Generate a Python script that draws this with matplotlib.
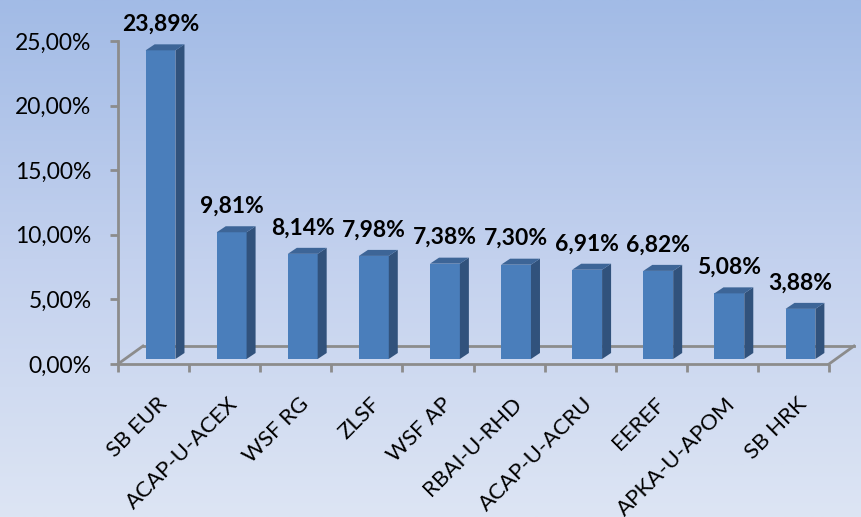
import matplotlib
matplotlib.use("Agg")
import matplotlib.pyplot as plt
import numpy as np
from matplotlib.patches import Polygon
from matplotlib.transforms import ScaledTranslation
from matplotlib.colors import LinearSegmentedColormap

categories = ["SB EUR", "ACAP-U-ACEX", "WSF RG", "ZLSF", "WSF AP", "RBAI-U-RHD",
              "ACAP-U-ACRU", "EEREF", "APKA-U-APOM", "SB HRK"]
values = [23.89, 9.81, 8.14, 7.98, 7.38, 7.30, 6.91, 6.82, 5.08, 3.88]
yticks = [0, 5, 10, 15, 20, 25]

W, H = 862, 517
fig = plt.figure(figsize=(W / 100, H / 100), dpi=100)

# background gradient
bg = fig.add_axes([0, 0, 1, 1])
cmap = LinearSegmentedColormap.from_list("bg", ["#dde5f4", "#c3d1ee", "#a2bbe6"])
grad = np.linspace(0, 1, 256).reshape(-1, 1)
bg.imshow(grad, aspect="auto", cmap=cmap, origin="lower", extent=[0, 1, 0, 1])
bg.set_axis_off()

# main axes: x 0..10 -> px 118..829, y 0..25 -> px 364..41
x0, x1 = 118, 829
y0, y1 = 364, 41
ax = fig.add_axes([x0 / W, 1 - y0 / H, (x1 - x0) / W, (y0 - y1) / H])
ax.set_xlim(0, len(categories))
ax.set_ylim(0, 25)
ax.patch.set_alpha(0)
for s in ["top", "right", "bottom"]:
    ax.spines[s].set_visible(False)
ax.spines["left"].set_color("#8c8c8c")
ax.spines["left"].set_linewidth(2)


def off(dx, dy):
    return ax.transData + ScaledTranslation(dx / 100, dy / 100, fig.dpi_scale_trans)


grey = "#8c8c8c"
n = len(categories)
# floor front edge
ax.plot([0, n], [0, 0], color=grey, lw=2, clip_on=False, solid_capstyle="butt")
# floor back edge
fd, fh = 25, 18
ax.plot([0, n], [0, 0], color=grey, lw=2, clip_on=False, transform=off(fd, fh))
# depth connectors
for xe in (0, n):
    p0 = ax.transData.transform((xe, 0))
    fig.add_artist(plt.Line2D([p0[0] / W, (p0[0] + fd) / W],
                              [p0[1] / H, (p0[1] + fh) / H],
                              color=grey, lw=2))

# ticks
ax.set_yticks(yticks)
ax.set_yticklabels([f"{v:.2f}%".replace(".", ",") for v in yticks],
                   fontsize=16.5, fontfamily="Lato")
ax.tick_params(axis="y", length=6, width=2, color=grey, pad=13)
ax.set_xticks(np.arange(0, n + 1))
ax.set_xticklabels([])
ax.tick_params(axis="x", length=6, width=2, color=grey, direction="out")

# category labels
centers = np.arange(n) + 0.5
lab_tr = off(3, -30)
for c, lab in zip(centers, categories):
    ax.text(c, 0, lab, rotation=45, ha="right", va="top", rotation_mode="anchor",
            fontsize=16, fontfamily="Lato", transform=lab_tr, clip_on=False)

# bars
bw = 0.42
bdx, bdy = 7, 5   # bar plane offset
sdx, sdy = 9, 6   # bar depth
front_c = "#4a7ebb"
side_c = "#31527c"
top_c = "#3d6597"
ax.bar(centers, values, width=bw, color=front_c, transform=off(bdx, bdy),
       clip_on=False, zorder=3)
for c, v in zip(centers, values):
    l, r = c - bw / 2, c + bw / 2
    pl = ax.transData.transform((l, v)) + [bdx, bdy]
    pr = ax.transData.transform((r, v)) + [bdx, bdy]
    pb = ax.transData.transform((r, 0)) + [bdx, bdy]
    side = [pb, pr, pr + [sdx, sdy], pb + [sdx, sdy]]
    top = [pl, pr, pr + [sdx, sdy], pl + [sdx, sdy]]
    for poly, col in ((side, side_c), (top, top_c)):
        fig.add_artist(Polygon([(p[0] / W, p[1] / H) for p in poly],
                               closed=True, facecolor=col, edgecolor="none",
                               transform=fig.transFigure, zorder=4))
    ax.text(c, v, f"{v:.2f}%".replace(".", ","), ha="center", va="center",
            fontsize=16.5, fontweight="bold", fontfamily="Lato",
            transform=off(bdx, bdy + 26), clip_on=False)

fig.savefig("out.png", dpi=100)
